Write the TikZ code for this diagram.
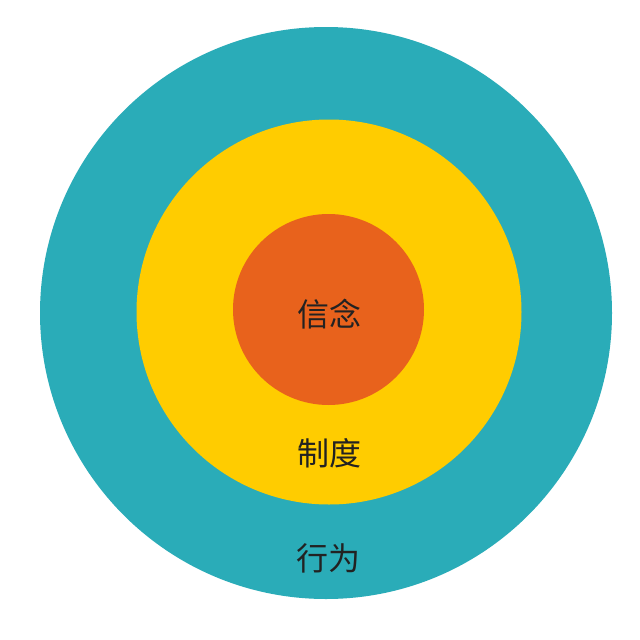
\documentclass[tikz,border=0pt]{standalone}
\usepackage{fontspec}
\newfontfamily\cjk{Noto Sans CJK SC}
\definecolor{tealc}{HTML}{2AACB8}
\definecolor{yellowc}{HTML}{FFCC00}
\definecolor{orangec}{HTML}{E8621C}
\definecolor{textc}{HTML}{222222}
\begin{document}
\begin{tikzpicture}[x=1pt,y=-1pt,
  ring/.style={circle,inner sep=0pt,draw=none},
  lbl/.style={font=\cjk\fontsize{32}{36}\selectfont,text=textc,inner sep=0pt}]
\useasboundingbox (0,0) rectangle (640,640);
\fill[white] (0,0) rectangle (640,640);
\node[ring,fill=tealc,minimum size=572pt] (outer) at (326,313) {};
\node[ring,fill=yellowc,minimum size=385pt] (middle) at (329,312) {};
\node[ring,fill=orangec,minimum size=191pt] (inner) at (328.5,309.5) {};
\node[lbl] (xinnian) at (329,314) {信念};
\node[lbl] (zhidu) at (329,453) {制度};
\node[lbl] (xingwei) at (328,558) {行为};
\end{tikzpicture}
\end{document}
